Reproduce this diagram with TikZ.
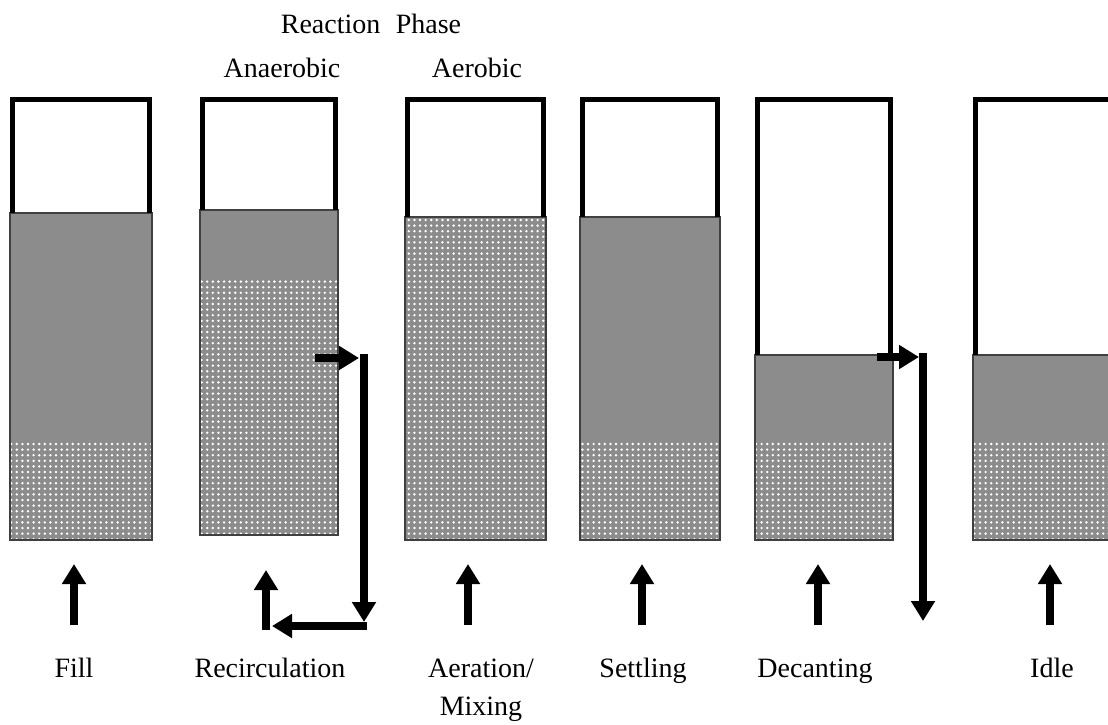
\documentclass[tikz,border=0pt]{standalone}
\usepackage{fontspec}
\setmainfont{Liberation Serif}
\usetikzlibrary{arrows.meta,patterns.meta,calc}
\definecolor{SBRgray}{HTML}{8C8C8C}
\tikzset{
  sbr/liquid/.style={fill=SBRgray},
  sbr/sludge/.style={fill=SBRgray, postaction={pattern={Dots[distance=5.6pt,radius=1.35pt]}, pattern color=white}},
  sbr/rim/.style={draw=black!75, line width=1.5pt},
  sbr/wall/.style={draw=black, line width=5pt},
  sbr/line/.style={line width=7.5pt},
  sbr/flow/.style={sbr/line, -{Triangle[length=20pt,width=23pt]}},
  sbr/label/.style={font=\fontsize{28}{38}\selectfont, align=center, anchor=base, inner sep=0pt}
}
% name, left, right, bottom, liquid top, sludge top
\newcommand{\sbrtank}[6]{%
  \fill[sbr/liquid] (#2,#5) rectangle (#3,#6);
  \fill[sbr/sludge] (#2,#6) rectangle (#3,#4);
  \draw[sbr/rim] (#2,#5) rectangle (#3,#4);
  \draw[sbr/wall] (#2+2.5,#5) |- (#3-2.5,99.5) -- (#3-2.5,#5);
  \coordinate (#1) at ($(#2,97)!0.5!(#3,#4)$);
}

\begin{document}
\begin{tikzpicture}[x=1pt, y=-1pt]
  \useasboundingbox (0,0) rectangle (1108,724);
  \clip (0,0) rectangle (1108,724);

  % the six stages
  \sbrtank{fill}{10}{152}{540}{213}{440}
  \sbrtank{recirc}{200}{338}{535}{210}{278}
  \sbrtank{aer}{405}{546}{540}{217}{217}
  \sbrtank{settle}{580}{720}{540}{217}{441}
  \sbrtank{decant}{755}{893}{540}{355}{441}
  \sbrtank{idle}{973}{1125}{540}{355}{441}

  % headings
  \node[sbr/label] (phase) at (371,33) {Reaction\hspace{0.55em}Phase};
  \node[sbr/label] (anaer) at (282,77) {Anaerobic};
  \node[sbr/label] (aerob) at (477,77) {Aerobic};

  % stage names
  \node[sbr/label] (lfill) at (74,677) {Fill};
  \node[sbr/label] (lrecirc) at (270,677) {Recirculation};
  \node[sbr/label, anchor=north] (laer) at (481,659) {Aeration/\\Mixing};
  \node[sbr/label] (lsettle) at (643,677) {Settling};
  \node[sbr/label] (ldecant) at (815,677) {Decanting};
  \node[sbr/label] (lidle) at (1052,677) {Idle};

  % inflow arrows
  \coordinate (f0) at (74,625);   \coordinate (f1) at (74,564);
  \coordinate (a0) at (468,625);  \coordinate (a1) at (468,564);
  \coordinate (s0) at (642,625);  \coordinate (s1) at (642,564);
  \coordinate (d0) at (818,625);  \coordinate (d1) at (818,564);
  \coordinate (i0) at (1050,625); \coordinate (i1) at (1050,564);
  \draw[sbr/flow] (f0) -- (f1);
  \draw[sbr/flow] (a0) -- (a1);
  \draw[sbr/flow] (s0) -- (s1);
  \draw[sbr/flow] (d0) -- (d1);
  \draw[sbr/flow] (i0) -- (i1);

  % recirculation loop
  \coordinate (r0) at (315,358); \coordinate (r1) at (359,358);
  \coordinate (r2) at (364,354); \coordinate (r3) at (364,622);
  \coordinate (r4) at (367,626); \coordinate (r5) at (272,626);
  \coordinate (r6) at (266,630); \coordinate (r7) at (266,570);
  \draw[sbr/flow] (r0) -- (r1);
  \draw[sbr/flow] (r2) -- (r3);
  \draw[sbr/flow] (r4) -- (r5);
  \draw[sbr/flow] (r6) -- (r7);

  % decant outlet
  \coordinate (o0) at (877,357); \coordinate (o1) at (919,357);
  \coordinate (o2) at (923,353); \coordinate (o3) at (923,621);
  \draw[sbr/flow] (o0) -- (o1);
  \draw[sbr/flow] (o2) -- (o3);
\end{tikzpicture}
\end{document}
